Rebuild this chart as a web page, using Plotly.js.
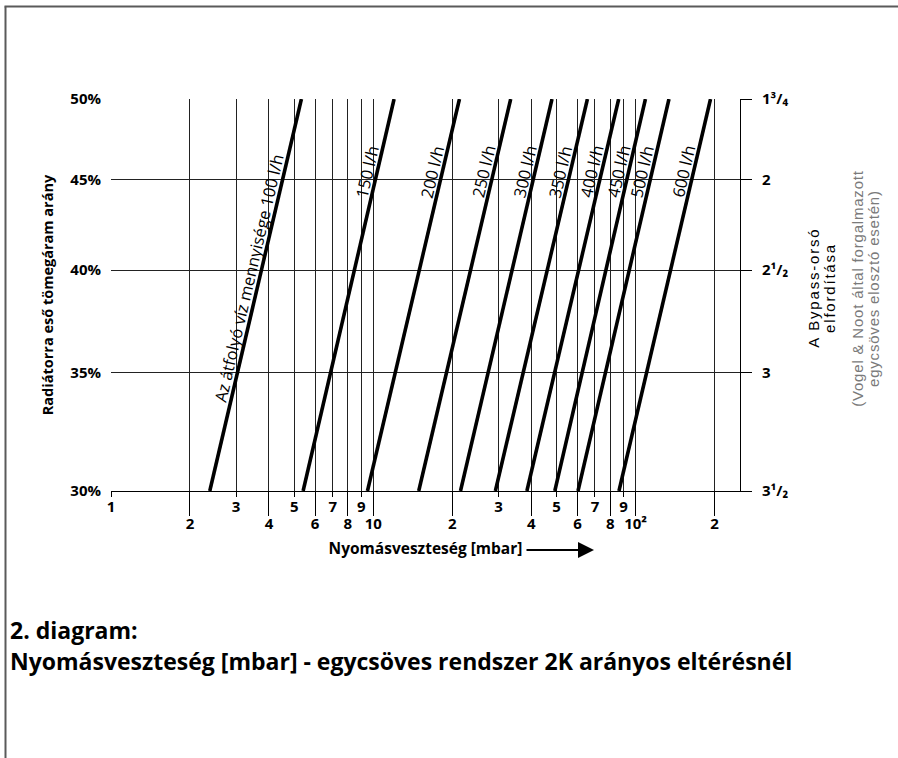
<!DOCTYPE html>
<html>
<head>
<meta charset="utf-8">
<script src="https://cdn.plot.ly/plotly-3.0.1.min.js"></script>
<style>
  html, body { margin: 0; padding: 0; background: #fff; }
  #chart { width: 898px; height: 758px; }
  g.annotation[data-index="10"] text, g.annotation[data-index="11"] text { letter-spacing: 1.8px; }
  g.annotation[data-index="12"] text, g.annotation[data-index="13"] text { letter-spacing: 0.8px; }
</style>
</head>
<body>
<div id="chart"></div>
<script>
// ---- data ----
const flowRates  = [100, 150, 200, 250, 300, 350, 400, 450, 500, 600];          // l/h
const flowLabels = ['Az átfolyó víz mennyisége 100 l/h', '150 l/h', '200 l/h', '250 l/h', '300 l/h',
                    '350 l/h', '400 l/h', '450 l/h', '500 l/h', '600 l/h'];
const ratioEnds  = [30, 50];                                                     // % (bottom, top)
const dpAtRatio30 = [2.38, 5.4, 9.5, 14.9, 21.5, 29.2, 38.5, 49.2, 60.3, 86.4];  // mbar at 30 %
const dpAtRatio50 = [5.32, 12.0, 21.3, 33.4, 48.0, 65.5, 86.2, 109, 134, 193];   // mbar at 50 %

const yTickVals   = [30, 35, 40, 45, 50];
const yTickText   = ['30%', '35%', '40%', '45%', '50%'];
const bypassText  = ['3¹/₂', '3', '2¹/₂', '2', '1³/₄'];
const xOddVals    = [1, 3, 5, 7, 9, 30, 50, 70, 90];
const xOddText    = ['1', '3', '5', '7', '9', '3', '5', '7', '9'];
const xEvenVals   = [2, 4, 6, 8, 10, 20, 40, 60, 80, 100, 200];
const xEvenText   = ['2', '4', '6', '8', '10', '2', '4', '6', '8', '10²', '2'];
const xRangeMax   = 250;

const xTitle   = 'Nyomásveszteség [mbar]';
const yTitle   = 'Radiátorra eső tömegáram arány';
const y2TitleLines = ['A Bypass-orsó', 'elfordítása'];
const y2NoteLines  = ['(Vogel &amp; Noot által forgalmazott', 'egycsöves elosztó esetén)'];
const caption1 = '2. diagram:';
const caption2 = 'Nyomásveszteség [mbar] - egycsöves rendszer 2K arányos eltérésnél';

// ---- layout geometry ----
const FIG_W = 898, FIG_H = 758;
const L = 111, T = 99, W = 629, H = 392;
const R = FIG_W - L - W, B = FIG_H - T - H;
const px = x => (x - L) / W;
const py = y => (T + H - y) / H;

const logX0 = 0, logX1 = Math.log10(xRangeMax);
const logY0 = Math.log10(ratioEnds[0]), logY1 = Math.log10(ratioEnds[1]);

const FONT = '"Open Sans", Lato, sans-serif';
const SANS = '"Liberation Sans", Arial, sans-serif';

const traces = flowRates.map((q, i) => ({
  type: 'scatter', mode: 'lines',
  x: [dpAtRatio30[i], dpAtRatio50[i]],
  y: ratioEnds,
  name: flowLabels[i],
  line: { color: '#000', width: 3.6 },
  hoverinfo: 'skip', showlegend: false,
  xaxis: 'x', yaxis: 'y'
}));
// invisible carriers so the secondary axes get drawn
traces.push(
  { type: 'scatter', mode: 'markers', x: [dpAtRatio30[0]], y: [ratioEnds[0]], xaxis: 'x2', yaxis: 'y',
    marker: { opacity: 0 }, hoverinfo: 'skip', showlegend: false },
  { type: 'scatter', mode: 'markers', x: [dpAtRatio30[0]], y: [ratioEnds[0]], xaxis: 'x', yaxis: 'y2',
    marker: { opacity: 0 }, hoverinfo: 'skip', showlegend: false }
);

// labels along each line (positioned on the line, shifted to its left)
const annotations = flowRates.map((q, i) => {
  const labRatio = i === 0 ? 39.6 : 45.5;
  const t = (Math.log10(labRatio) - logY0) / (logY1 - logY0);
  const lx0 = Math.log10(dpAtRatio30[i]), lx1 = Math.log10(dpAtRatio50[i]);
  const lx = lx0 + t * (lx1 - lx0);
  const dxPx = (lx1 - lx0) * W / (logX1 - logX0);
  const ang = -Math.atan2(H, dxPx) * 180 / Math.PI;
  return {
    x: lx, y: Math.log10(labRatio), xref: 'x', yref: 'y',
    text: flowLabels[i], showarrow: false, textangle: ang,
    xanchor: 'center', yanchor: 'middle', xshift: -10.5,
    font: { family: FONT, size: 16.5, color: '#000' }
  };
});

const sideText = (txt, xPix, color) => ({
  x: px(xPix), y: py(288), xref: 'paper', yref: 'paper', text: txt, showarrow: false,
  textangle: -90, xanchor: 'center', yanchor: 'middle',
  font: { family: SANS, size: 15, color: color }
});

annotations.push(
  sideText(y2TitleLines[0], 813, '#000'),   // index 10
  sideText(y2TitleLines[1], 829, '#000'),   // index 11
  sideText(y2NoteLines[0], 857, '#7a7a7a'), // index 12
  sideText(y2NoteLines[1], 873, '#7a7a7a'), // index 13
  { x: px(594), y: py(550), xref: 'paper', yref: 'paper', text: '', showarrow: true,
    ax: -69, ay: 0, arrowhead: 2, arrowsize: 1.6, arrowwidth: 2, arrowcolor: '#000' },
  { x: px(8), y: py(630), xref: 'paper', yref: 'paper', text: caption1, showarrow: false,
    xanchor: 'left', yanchor: 'middle', font: { family: FONT, size: 23, color: '#000', weight: 'bold' } },
  { x: px(8), y: py(661), xref: 'paper', yref: 'paper', text: caption2, showarrow: false,
    xanchor: 'left', yanchor: 'middle', font: { family: FONT, size: 23, color: '#000', weight: 'bold' } }
);

const tickFont = { family: FONT, size: 15, color: '#000', weight: 'bold' };

const layout = {
  width: FIG_W, height: FIG_H,
  margin: { l: L, r: R, t: T, b: B },
  paper_bgcolor: '#fff', plot_bgcolor: '#fff',
  showlegend: false,
  xaxis: {
    type: 'log', range: [logX0, logX1],
    tickmode: 'array', tickvals: xOddVals, ticktext: xOddText,
    ticks: 'outside', ticklen: 5, tickwidth: 1, tickcolor: '#000', ticklabelstandoff: -3,
    showgrid: true, gridcolor: '#222', gridwidth: 1,
    showline: true, linecolor: '#000', linewidth: 1,
    zeroline: false, tickfont: tickFont,
    title: { text: xTitle, standoff: 28, font: { family: FONT, size: 15.5, color: '#000', weight: 'bold' } },
    fixedrange: true
  },
  xaxis2: {
    type: 'log', range: [logX0, logX1], overlaying: 'x', anchor: 'y', side: 'bottom',
    tickmode: 'array', tickvals: xEvenVals, ticktext: xEvenText,
    ticks: 'outside', ticklen: 24, tickwidth: 1, tickcolor: '#000', ticklabelstandoff: -5,
    showgrid: true, gridcolor: '#222', gridwidth: 1,
    showline: false, zeroline: false, tickfont: tickFont, fixedrange: true
  },
  yaxis: {
    type: 'log', range: [logY0, logY1],
    tickmode: 'array', tickvals: yTickVals, ticktext: yTickText,
    ticks: '', ticklabelstandoff: 9,
    showgrid: true, gridcolor: '#222', gridwidth: 1,
    showline: false, zeroline: false, tickfont: tickFont,
    title: { text: yTitle, standoff: 13, font: { family: FONT, size: 14.5, color: '#000', weight: 'bold' } },
    fixedrange: true
  },
  yaxis2: {
    type: 'log', range: [logY0, logY1], overlaying: 'y', anchor: 'x', side: 'right',
    tickmode: 'array', tickvals: yTickVals, ticktext: bypassText,
    ticks: 'outside', ticklen: 11, tickwidth: 1, tickcolor: '#000', ticklabelstandoff: 7,
    showgrid: false, showline: true, linecolor: '#000', linewidth: 1,
    zeroline: false, tickfont: tickFont, fixedrange: true
  },
  annotations: annotations,
  shapes: [
    { type: 'line', xref: 'paper', yref: 'paper', x0: px(5.5), x1: px(5.5), y0: py(6.5), y1: py(FIG_H),
      line: { color: '#5a5a5a', width: 2 } },
    { type: 'line', xref: 'paper', yref: 'paper', x0: px(4.5), x1: px(FIG_W), y0: py(6.5), y1: py(6.5),
      line: { color: '#5a5a5a', width: 2 } }
  ]
};

Plotly.newPlot('chart', traces, layout, { staticPlot: true, displayModeBar: false });
</script>
</body>
</html>
